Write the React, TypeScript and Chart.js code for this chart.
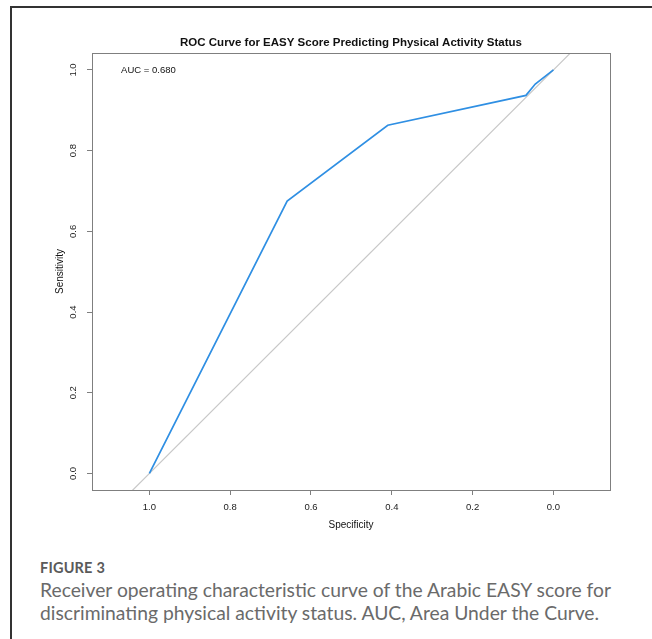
import React, { useEffect, useRef } from "react";
import { Chart, registerables } from "chart.js";

Chart.register(...registerables);

// ROC curve (specificity on reversed x axis, sensitivity on y)
const rocSpecificity = [1.0, 0.659, 0.41, 0.068, 0.045, 0.0];
const rocSensitivity = [0.0, 0.675, 0.863, 0.937, 0.965, 1.0];

// Reference diagonal (y = 1 - x), clipped to plot region
const diagSpecificity = [1.2, -0.2];
const diagSensitivity = [-0.2, 1.2];

const xTickValues = [1.0, 0.8, 0.6, 0.4, 0.2, 0.0];
const yTickValues = [0.0, 0.2, 0.4, 0.6, 0.8, 1.0];

const titleText = "ROC Curve for EASY Score Predicting Physical Activity Status";
const xTitle = "Specificity";
const yTitle = "Sensitivity";
const aucLabel = "AUC = 0.680";
const aucPos = { x: 1.07, y: 1.0 };

const figureLabel = "FIGURE 3";
const captionText =
  "Receiver operating characteristic curve of the Arabic EASY score for discriminating physical activity status. AUC, Area Under the Curve.";

const RFONT = "'Liberation Sans', Arial, Helvetica, sans-serif";
const AXIS_GREY = "#7f7f7f";

export default function App() {
  const ref = useRef<HTMLCanvasElement | null>(null);

  useEffect(() => {
    document.body.style.margin = "0";
    const canvas = ref.current;
    if (!canvas) return;

    const boxPlugin = {
      id: "rbox",
      afterDraw(chart: any) {
        const { ctx, chartArea } = chart;
        ctx.save();
        ctx.strokeStyle = AXIS_GREY;
        ctx.lineWidth = 1;
        ctx.strokeRect(
          Math.round(chartArea.left) + 0.5,
          Math.round(chartArea.top) + 0.5,
          Math.round(chartArea.right - chartArea.left),
          Math.round(chartArea.bottom - chartArea.top)
        );
        // AUC annotation
        const xs = chart.scales.x;
        const ys = chart.scales.y;
        ctx.fillStyle = "#111";
        ctx.font = `9.5px ${RFONT}`;
        ctx.textAlign = "left";
        ctx.textBaseline = "middle";
        ctx.fillText(aucLabel, xs.getPixelForValue(aucPos.x), ys.getPixelForValue(aucPos.y));
        ctx.restore();
      },
    };

    const chart = new Chart(canvas, {
      type: "scatter",
      data: {
        datasets: [
          {
            data: rocSpecificity.map((x, i) => ({ x, y: rocSensitivity[i] })),
            showLine: true,
            borderColor: "#2f8fe3",
            borderWidth: 1.7,
            pointRadius: 0,
            fill: false,
            tension: 0,
          },
          {
            data: diagSpecificity.map((x, i) => ({ x, y: diagSensitivity[i] })),
            showLine: true,
            borderColor: "#c8c8c8",
            borderWidth: 1.2,
            pointRadius: 0,
            fill: false,
          },
        ],
      },
      options: {
        responsive: false,
        animation: false,
        layout: { padding: { left: 0, right: 42, top: 0, bottom: 0 } },
        plugins: {
          legend: { display: false },
          tooltip: { enabled: false },
          title: {
            display: true,
            text: titleText,
            fullSize: false,
            color: "#111",
            font: { family: RFONT, size: 11.5, weight: "bold", lineHeight: 1.2 },
            padding: { top: 35.6, bottom: 3.6 },
          },
        },
        scales: {
          x: {
            type: "linear",
            reverse: true,
            min: -0.14,
            max: 1.142,
            afterBuildTicks: (s: any) => {
              s.ticks = xTickValues.map((v) => ({ value: v }));
            },
            afterFit: (s: any) => {
              s.height = 50;
            },
            border: { display: false },
            grid: {
              drawOnChartArea: false,
              drawTicks: true,
              tickLength: 5,
              color: AXIS_GREY,
            },
            ticks: {
              color: "#222",
              font: { family: RFONT, size: 9.5 },
              padding: 7,
              maxRotation: 0,
              autoSkip: false,
              callback: (v: any) => Number(v).toFixed(1),
            },
            title: {
              display: true,
              text: xTitle,
              color: "#111",
              font: { family: RFONT, size: 10, lineHeight: 1.2 },
              padding: { top: 0, bottom: 9 },
            },
          },
          y: {
            type: "linear",
            min: -0.041,
            max: 1.042,
            afterBuildTicks: (s: any) => {
              s.ticks = yTickValues.map((v) => ({ value: v }));
            },
            afterFit: (s: any) => {
              s.width = 92;
            },
            border: { display: false },
            grid: {
              drawOnChartArea: false,
              drawTicks: true,
              tickLength: 5,
              color: AXIS_GREY,
            },
            ticks: {
              color: "#222",
              font: { family: RFONT, size: 9.5 },
              padding: 7,
              minRotation: 90,
              maxRotation: 90,
              crossAlign: "center",
              autoSkip: false,
              callback: (v: any) => Number(v).toFixed(1),
            },
            title: {
              display: true,
              text: yTitle,
              color: "#111",
              font: { family: RFONT, size: 10, lineHeight: 1.2 },
              padding: { top: 54, bottom: 0 },
            },
          },
        },
      },
      plugins: [boxPlugin],
    } as any);

    return () => chart.destroy();
  }, []);

  return (
    <div
      style={{
        position: "fixed",
        left: 0,
        top: 0,
        width: 652,
        height: 639,
        background: "#fff",
        overflow: "hidden",
      }}
    >
      <canvas
        ref={ref}
        width={652}
        height={540}
        style={{ position: "absolute", left: 0, top: 0, display: "block" }}
      />
      <div style={{ position: "absolute", left: 10, top: 6, right: 0, height: 2, background: "#333" }} />
      <div style={{ position: "absolute", left: 10, top: 6, bottom: 0, width: 2, background: "#333" }} />
      <div
        style={{
          position: "absolute",
          left: 40,
          top: 559,
          fontFamily: "Lato, 'Open Sans', sans-serif",
          fontWeight: 700,
          fontSize: 14.5,
          color: "#5a5a5a",
          letterSpacing: 0.2,
        }}
      >
        {figureLabel}
      </div>
      <div
        style={{
          position: "absolute",
          left: 40,
          top: 578,
          width: 600,
          fontFamily: "Lato, 'Open Sans', sans-serif",
          fontSize: 19.3,
          lineHeight: "23px",
          color: "#6a6a6a",
        }}
      >
        {captionText}
      </div>
    </div>
  );
}
